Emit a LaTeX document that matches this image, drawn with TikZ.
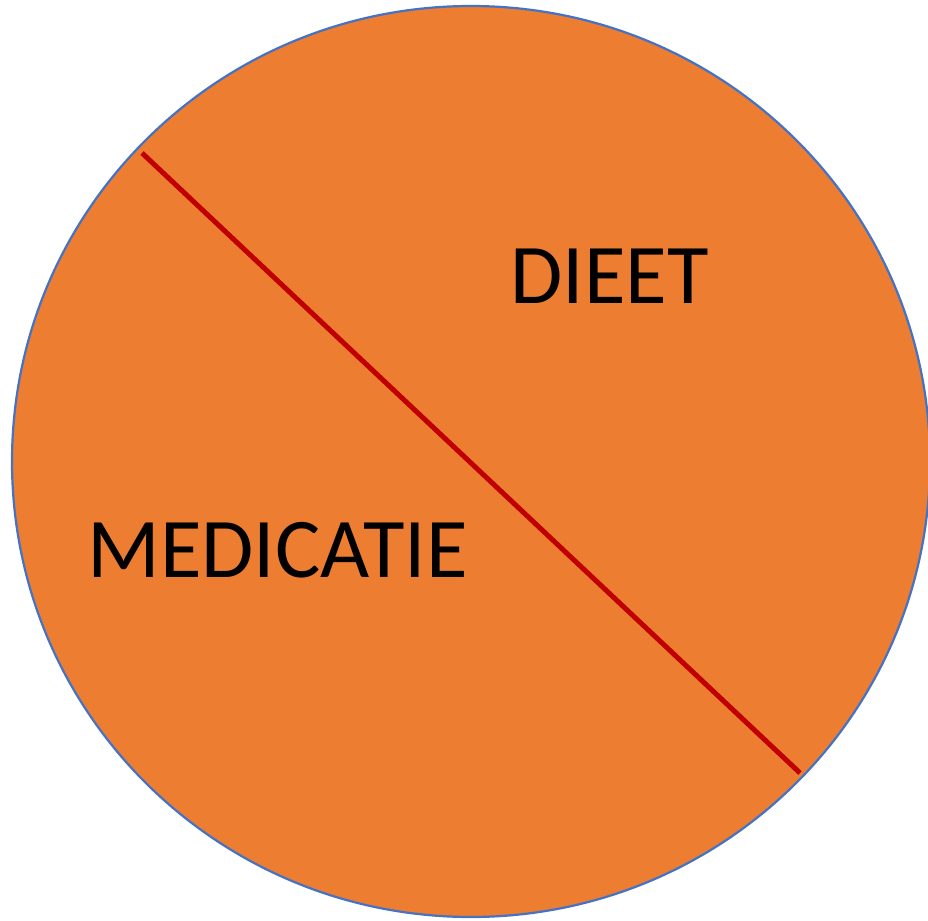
\documentclass[tikz,border=0pt]{standalone}
\usepackage{fontspec}
\setmainfont{Carlito}
\definecolor{fillorange}{HTML}{ED7D31}
\definecolor{edgeblue}{HTML}{4472C4}
\definecolor{divred}{HTML}{C00000}
\tikzset{
  lbl/.style={inner sep=0pt, font=\fontsize{85}{85}\selectfont, text=black},
  divider/.style={draw=divred, line width=5pt}
}
\begin{document}
\begin{tikzpicture}[x=1pt,y=-1pt]
\useasboundingbox (0,0) rectangle (928,920);
\begin{scope}
\clip (0,0) rectangle (928,920);
\draw[fill=fillorange, draw=edgeblue, line width=2.2pt] (471,461.5) ellipse [x radius=459, y radius=455.5];
\end{scope}
\coordinate (p1) at (142,153);
\coordinate (p2) at (800,773);
\draw[divider] (p1) -- (p2);
\node[lbl] (dieet) at (609.5,276) {DIEET};
\node[lbl] (med) at (277.5,550) {MEDICATIE};
\end{tikzpicture}
\end{document}
